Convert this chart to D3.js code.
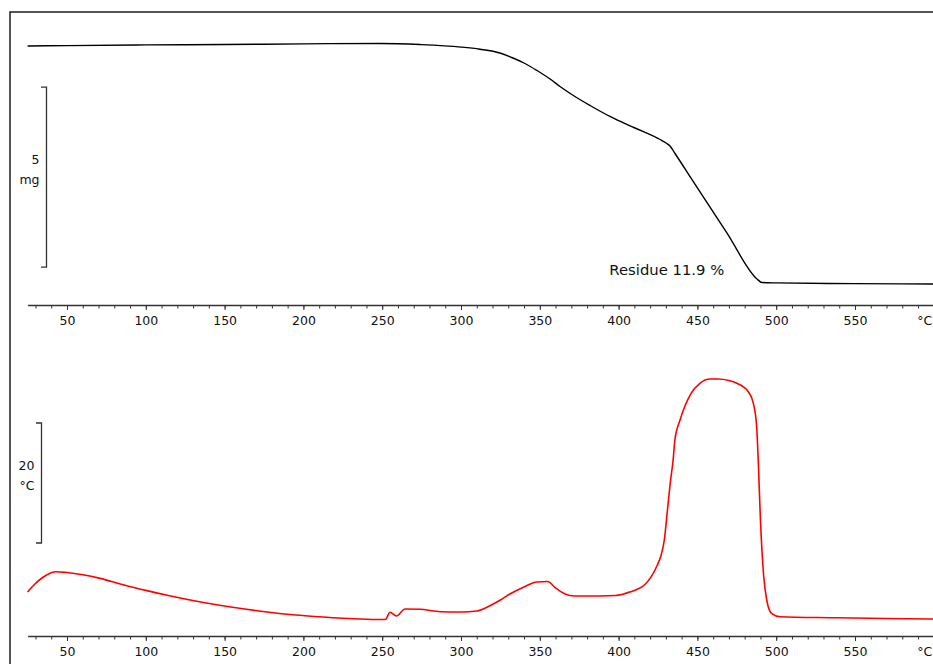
<!DOCTYPE html>
<html>
<head>
<meta charset="utf-8">
<script src="https://cdn.jsdelivr.net/npm/d3@7"></script>
<style>
  html, body { margin: 0; padding: 0; background: #fff; }
  svg { display: block; font-family: "DejaVu Sans", Verdana, sans-serif; }
</style>
</head>
<body>
<svg id="chart" width="933" height="664"></svg>
<script>
// Temperature (°C) and sample mass (mg) — TGA trace
const tgaTemp = [25, 50, 100, 150, 200, 249, 274, 300, 312, 324.7, 333, 340.6, 348.2, 356.5, 362.8, 372.3, 381.9, 394.5, 410.4, 426.3, 430.1, 432.6, 436, 447.2, 468.8, 487.8, 491, 500, 550, 600];
const tgaMass = [7.50, 7.51, 7.53, 7.54, 7.56, 7.57, 7.54, 7.47, 7.41, 7.306, 7.167, 7.014, 6.819, 6.583, 6.375, 6.097, 5.847, 5.542, 5.222, 4.903, 4.806, 4.722, 4.50, 3.745, 2.30, 1.03, 0.93, 0.92, 0.90, 0.89];

// Temperature (°C) and SDTA signal (°C)
const dtaTemp = [25, 29, 35, 43, 50, 60, 71, 85, 100, 115, 134, 155, 177, 195, 210, 225, 240, 252, 255, 259, 264.5, 274, 287, 300, 310, 318, 325, 331, 340, 348, 355, 360, 366, 372, 388, 398, 407, 417, 424, 427, 429, 431, 433, 434.6, 435.7, 439, 446, 451.6, 458, 463, 470, 475, 482.3, 485.5, 487.6, 488.6, 490, 492, 494, 497, 502.4, 536, 570, 600];
const dtaSignal = [7.33, 8.5, 9.83, 10.72, 10.58, 10.2, 9.6, 8.6, 7.6, 6.7, 5.7, 4.8, 4.0, 3.5, 3.2, 2.95, 2.8, 2.75, 3.95, 3.33, 4.5, 4.45, 4.05, 4.0, 4.17, 5.0, 6.0, 7.0, 8.17, 9.0, 9.08, 8.0, 7.0, 6.67, 6.67, 6.75, 7.33, 8.67, 11.5, 13.5, 16.0, 21.0, 26.0, 29.33, 32.67, 36.0, 40.45, 42.12, 42.83, 42.83, 42.58, 42.12, 40.72, 38.78, 34.88, 29.33, 19.33, 10.17, 6.0, 3.78, 3.22, 3.05, 2.92, 2.83];

// Axis ticks
const majorTicks = [50, 100, 150, 200, 250, 300, 350, 400, 450, 500, 550, 600];
const minorTicks = d3.range(30, 601, 10);
const tickLabel = t => (t === 600 ? "°C" : String(t));

// Scale-bar annotations: [from, to] in signal units, with label lines
const massBar = [6.36, 1.36];
const massBarLabel = ["5", "mg"];
const dtaBar = [35.5, 15.5];
const dtaBarLabel = ["20", "°C"];
const residueText = "Residue 11.9 %";
const residueAt = [410, 0.89];

const svg = d3.select("#chart");
const W = 933, H = 664;
const frameColor = "#1e1e1e";
const axisColor = "#333";

svg.append("rect").attr("width", W).attr("height", H).attr("fill", "#fff");

const x = d3.scaleLinear().domain([25, 600]).range([27.6, 933.8]);
const yMass = d3.scaleLinear().domain([0, 7.5]).range([316, 46]);
const yDta = d3.scaleLinear().domain([0, 45]).range([636, 366]);

// outer frame (top and left borders)
svg.append("path")
  .attr("d", `M10,${H} L10,12 L${W},12`)
  .attr("fill", "none").attr("stroke", frameColor).attr("stroke-width", 1.5);

function drawAxis(yPos) {
  const g = svg.append("g").attr("transform", `translate(0,${yPos})`);
  const minor = g.append("g").call(
    d3.axisBottom(x).tickValues(minorTicks).tickSize(3.5).tickSizeOuter(0).tickFormat("")
  );
  minor.select(".domain").attr("stroke", axisColor).attr("stroke-width", 1.4);
  minor.selectAll(".tick line").attr("stroke", axisColor).attr("stroke-width", 1);
  const major = g.append("g").call(
    d3.axisBottom(x).tickValues(majorTicks).tickSize(5).tickSizeOuter(0).tickPadding(6).tickFormat(tickLabel)
  );
  major.select(".domain").remove();
  major.selectAll(".tick line").attr("stroke", axisColor).attr("stroke-width", 1);
  major.selectAll(".tick text")
    .attr("fill", "#111")
    .style("font-size", "12.5px")
    .style("font-family", "'DejaVu Sans', Verdana, sans-serif");
  // the unit label sits at the right edge of the axis
  major.selectAll(".tick text").filter(d => d === 600)
    .attr("text-anchor", "end")
    .attr("dx", -2);
}
drawAxis(305);
drawAxis(636);

// TGA curve
const tgaLine = d3.line()
  .x((d, i) => x(tgaTemp[i]))
  .y(d => yMass(d))
  .curve(d3.curveMonotoneX);
svg.append("path")
  .attr("d", tgaLine(tgaMass))
  .attr("fill", "none").attr("stroke", "#000").attr("stroke-width", 1.4);

// SDTA curve
const dtaLine = d3.line()
  .x((d, i) => x(dtaTemp[i]))
  .y(d => yDta(d))
  .curve(d3.curveMonotoneX);
svg.append("path")
  .attr("d", dtaLine(dtaSignal))
  .attr("fill", "none").attr("stroke", "#ff0000").attr("stroke-width", 1.6);

// vertical scale bars with unit labels
function scaleBar(scale, range, barX, labels) {
  const y0 = scale(range[0]), y1 = scale(range[1]);
  svg.append("path")
    .attr("d", `M${barX - 5.5},${y0} L${barX},${y0} L${barX},${y1} L${barX - 5.5},${y1}`)
    .attr("fill", "none").attr("stroke", axisColor).attr("stroke-width", 1.3);
  const mid = (y0 + y1) / 2;
  const t = svg.append("text")
    .attr("text-anchor", "end")
    .attr("fill", "#111")
    .style("font-size", "12.5px");
  labels.forEach((s, i) => {
    t.append("tspan")
      .attr("x", barX - 7)
      .attr("y", mid - 13 + i * 20)
      .text(s);
  });
}
scaleBar(yMass, massBar, 46.5, massBarLabel);
scaleBar(yDta, dtaBar, 41.5, dtaBarLabel);

// residue annotation
svg.append("text")
  .attr("x", x(residueAt[0]) - 25)
  .attr("y", yMass(residueAt[1]) - 9)
  .attr("fill", "#111")
  .style("font-size", "14.8px")
  .text(residueText);
</script>
</body>
</html>
